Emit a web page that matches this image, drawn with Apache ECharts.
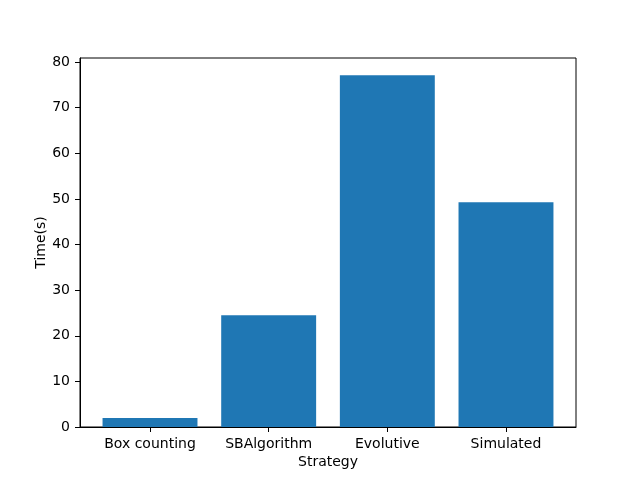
<!DOCTYPE html>
<html><head><meta charset="utf-8">
<script src="https://cdn.jsdelivr.net/npm/echarts@6/dist/echarts.min.js"></script>
<style>html,body{margin:0;padding:0;background:#fff}#c{width:640px;height:480px}</style>
</head><body><div id="c"></div>
<script>
const categories = ['Box counting', 'SBAlgorithm', 'Evolutive', 'Simulated'];
const times = [2.0, 24.5, 77.1, 49.3];
const yTicks = [0, 10, 20, 30, 40, 50, 60, 70, 80];
const xTicks = [0, 1, 2, 3];

const font = 'DejaVu Sans';
const chart = echarts.init(document.getElementById('c'), null, {renderer: 'canvas'});
chart.setOption({
  animation: false,
  backgroundColor: '#fff',
  grid: {left: 80, right: 64, top: 58, bottom: 53, show: true, borderColor: '#000', borderWidth: 1},
  xAxis: {
    type: 'value', min: -0.59, max: 3.59,
    name: 'Strategy', nameLocation: 'middle', nameGap: 28, nameMoveOverlap: false,
    nameTextStyle: {fontFamily: font, fontSize: 14, color: '#000'},
    axisLine: {show: true, onZero: false, lineStyle: {color: '#000', width: 1}},
    axisTick: {show: true, customValues: xTicks, length: 5, lineStyle: {color: '#000'}},
    axisLabel: {customValues: xTicks, formatter: v => categories[Math.round(v)] || '', fontFamily: font, fontSize: 14, color: '#000', margin: 10},
    splitLine: {show: false}
  },
  yAxis: {
    type: 'value', min: 0, max: 80.9,
    name: 'Time(s)', nameLocation: 'middle', nameGap: 32, nameRotate: 90, nameMoveOverlap: false,
    nameTextStyle: {fontFamily: font, fontSize: 14, color: '#000'},
    axisLine: {show: true, onZero: false, lineStyle: {color: '#000', width: 1}},
    axisTick: {show: true, customValues: yTicks, length: 5, lineStyle: {color: '#000'}},
    axisLabel: {customValues: yTicks, fontFamily: font, fontSize: 14, color: '#000', margin: 10},
    splitLine: {show: false}
  },
  series: [{
    type: 'bar',
    data: times.map((t, i) => [i, t]),
    barWidth: '80%',
    itemStyle: {color: '#1f77b4'}
  }]
});
</script></body></html>
